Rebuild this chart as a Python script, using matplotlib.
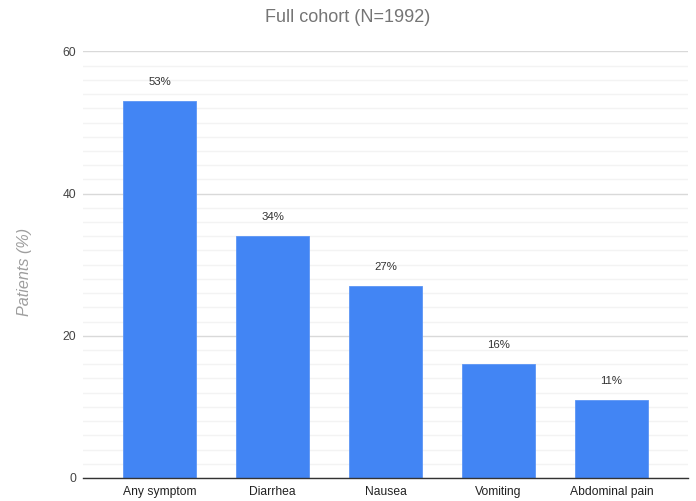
import matplotlib
matplotlib.use("Agg")
import matplotlib.pyplot as plt
from matplotlib.ticker import MultipleLocator

plt.rcParams['font.family'] = ['Liberation Sans', 'DejaVu Sans']

categories = ["Any symptom", "Diarrhea", "Nausea", "Vomiting", "Abdominal pain"]
values = [53, 34, 27, 16, 11]
labels = ["53%", "34%", "27%", "16%", "11%"]
yticks = [0, 20, 40, 60]

fig = plt.figure(figsize=(6.96, 5.01), dpi=100)
ax = fig.add_axes([83/696, 23/501, (688-83)/696, (478-51.4)/501])

x = list(range(len(categories)))
bars = ax.bar(x, values, width=0.646, color="#4285f4", edgecolor="#5c95f5", linewidth=0.6, zorder=3)

ax.set_xlim(-0.677, len(categories) - 1 + 0.677)
ax.set_ylim(0, 60)
ax.set_yticks(yticks)
ax.yaxis.set_minor_locator(MultipleLocator(2))
ax.grid(which="major", axis="y", color="#d9d9d9", linewidth=1.0, zorder=0)
ax.grid(which="minor", axis="y", color="#f3f3f3", linewidth=1.0, zorder=0)
ax.set_xticks(x)
ax.set_xticklabels(categories, fontsize=8.7, color="#222222")
ax.tick_params(axis="y", which="both", length=0, labelsize=8.7, labelcolor="#444444", pad=5)
ax.tick_params(axis="x", length=0, pad=6)

for s in ["top", "right", "left"]:
    ax.spines[s].set_visible(False)
ax.spines["bottom"].set_color("#333333")
ax.spines["bottom"].set_linewidth(1.0)
ax.spines["bottom"].set_zorder(4)

for xi, v, lab in zip(x, values, labels):
    ax.annotate(lab, (xi, v), xytext=(0, 10), textcoords="offset points",
                ha="center", va="bottom", fontsize=8.2, color="#333333")

fig.text(348/696, 1 - 17/501, "Full cohort (N=1992)", ha="center", va="center",
         fontsize=13, color="#757575")
fig.text(25/696, 1 - 272/501, "Patients (%)", ha="center", va="center",
         rotation=90, fontsize=11.6, style="italic", color="#9e9e9e")

fig.savefig("out.png", dpi=100)
